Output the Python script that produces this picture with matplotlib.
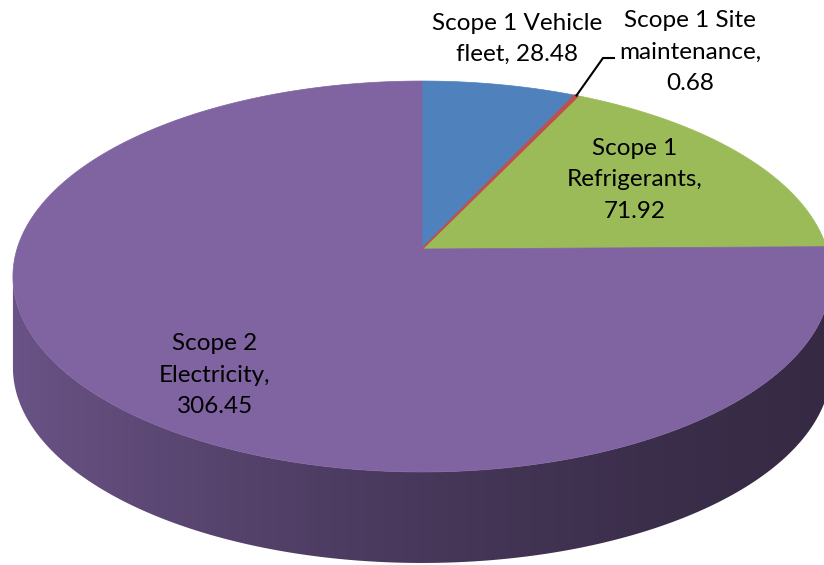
import numpy as np
import matplotlib.pyplot as plt
from matplotlib.colors import to_rgb
from matplotlib.patches import Polygon

# Datos del grafico
categorias = ['Scope 1 Vehicle fleet', 'Scope 1 Site maintenance',
              'Scope 1 Refrigerants', 'Scope 2 Electricity']
valores = [28.48, 0.68, 71.92, 306.45]
etiquetas = ['Scope 1 Vehicle\nfleet, 28.48',
             'Scope 1 Site\nmaintenance,\n0.68',
             'Scope 1\nRefrigerants,\n71.92',
             'Scope 2\nElectricity,\n306.45']
colores = ['#4F81BD', '#C0504D', '#9BBB59', '#8064A2']

# Geometria del pastel 3D (pixeles)
cx, cy = 422, 249
rx, ry = 405, 191.6
k = 0.1407          # perspectiva
prof = 91           # espesor del disco

def proyectar(theta):
    # theta en grados, sentido horario desde arriba
    t = np.radians(theta)
    X, Z = np.sin(t), np.cos(t)
    w = 1 + k * Z
    return cx + rx * X / w, cy - ry * Z / w

def sombra(X):
    return 0.56 - 0.205 * X + 0.06 * X**2

total = sum(valores)
bordes = np.concatenate([[0], np.cumsum(valores) / total * 360])

fig = plt.figure(figsize=(8.24, 5.65), dpi=100)
ax = fig.add_axes([0, 0, 1, 1])
ax.set_xlim(0, 824)
ax.set_ylim(565, 0)
ax.axis('off')

# Lateral del disco: degradado recortado con la forma del lateral
# (entre los puntos extremos izquierdo y derecho del contorno)
t_ext = np.degrees(np.arccos(-k))
th_lat = np.linspace(t_ext, 360 - t_ext, 400)
xs, ys = proyectar(th_lat)
contorno = list(zip(xs, ys)) + list(zip(xs[::-1], ys[::-1] + prof))
lateral = Polygon(contorno, closed=True, facecolor='none', edgecolor='none')
ax.add_patch(lateral)

col_x = np.arange(0, 840)
X = np.clip((col_x - cx) / 409.0, -1, 1)
th_frente = 180 - np.degrees(np.arcsin(X))
idx = np.clip(np.searchsorted(bordes, th_frente) - 1, 0, len(valores) - 1)
base = np.array([to_rgb(c) for c in colores])[idx]
grad = np.clip(base * sombra(X)[:, None], 0, 1)[None, :, :]
img = ax.imshow(grad, extent=(0, 840, 565, 0), aspect='auto',
                interpolation='bilinear', zorder=1)
img.set_clip_path(lateral)

# Cara superior
for i in range(len(valores)):
    th = np.linspace(bordes[i], bordes[i + 1], max(3, int((bordes[i + 1] - bordes[i]) * 2)))
    xs, ys = proyectar(th)
    pts = [(cx, cy)] + list(zip(xs, ys))
    fino = valores[i] / total < 0.01   # rebanada muy delgada: borde mas grueso
    ax.add_patch(Polygon(pts, closed=True, facecolor=colores[i],
                         edgecolor=colores[i], linewidth=1.3 if fino else 0.5,
                         zorder=2.5 if fino else 2))

# Etiquetas
pos_etiquetas = [(517, 39), (690, 52), (635, 180), (215, 375)]
for (x, y), txt in zip(pos_etiquetas, etiquetas):
    ax.text(x, y, txt, ha='center', va='center', fontsize=17.5,
            family='Lato', linespacing=1.6, color='black', zorder=4)

# Linea guia de Site maintenance
xe, ye = proyectar((bordes[1] + bordes[2]) / 2)
ax.plot([xe, 603, 614], [ye, 58, 58], color='black', lw=1.5, zorder=3)

ax.set_xlim(0, 824)
ax.set_ylim(565, 0)
fig.savefig('out.png', dpi=100)
